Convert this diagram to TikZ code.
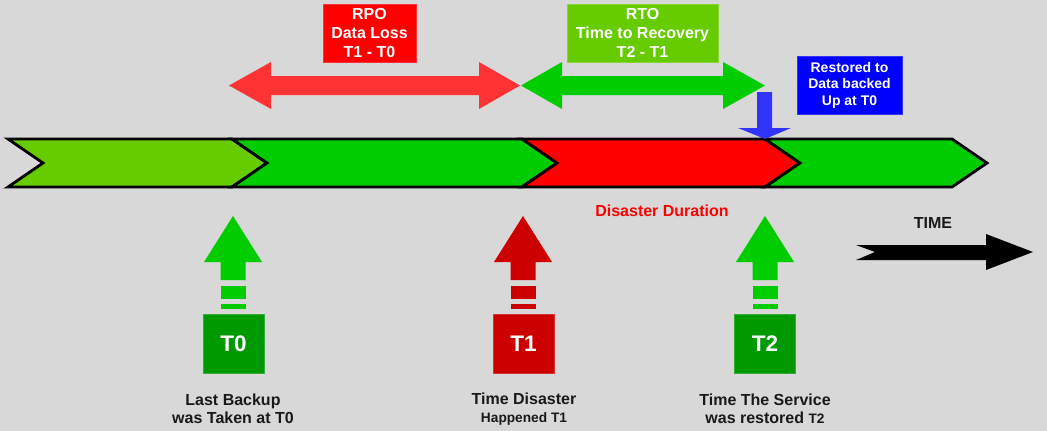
\documentclass[tikz,border=0pt]{standalone}
\usepackage{fontspec}
\setmainfont{Liberation Sans}
\definecolor{bg}{RGB}{216,216,216}
\definecolor{lgreen}{RGB}{102,204,0}
\definecolor{mgreen}{RGB}{0,204,0}
\definecolor{dgreen}{RGB}{0,153,0}
\definecolor{pred}{RGB}{255,0,0}
\definecolor{lred}{RGB}{255,51,51}
\definecolor{dred}{RGB}{204,0,0}
\definecolor{pblue}{RGB}{0,0,255}
\definecolor{lblue}{RGB}{51,51,255}
\begin{document}
\begin{tikzpicture}[x=1pt,y=-1pt,
  chev/.style={draw=black,line width=2.8pt,line join=miter},
  topbox/.style={fill=#1,draw=#1!80!white,line width=0.8pt,text=white,align=center,
    font=\bfseries\fontsize{16}{19}\selectfont,inner sep=0pt},
  tbox/.style={fill=#1,draw=#1!80!white,line width=0.8pt,text=white,
    minimum width=61pt,minimum height=59pt,inner sep=0pt,
    font=\bfseries\fontsize{22.5}{24}\selectfont},
  lbl/.style={align=center,text=black!90,font=\bfseries\fontsize{16}{18.5}\selectfont,inner sep=0pt},
]
\fill[bg] (0,0) rectangle (1047,431);
\useasboundingbox (0,0) rectangle (1047,431);

% timeline chevrons
\draw[chev,fill=lgreen] (8,139) -- (232,139) -- (267,163) -- (232,187) -- (8,187) -- (43,163) -- cycle;
\draw[chev,fill=mgreen] (232,139) -- (522,139) -- (557,163) -- (522,187) -- (232,187) -- (267,163) -- cycle;
\draw[chev,fill=pred] (522,139) -- (765,139) -- (800,163) -- (765,187) -- (522,187) -- (557,163) -- cycle;
\draw[chev,fill=mgreen] (765,139) -- (952,139) -- (987,163) -- (952,187) -- (765,187) -- (800,163) -- cycle;

% top double arrows
\fill[lred] (229,85.5) -- (271,62) -- (271,76) -- (479,76) -- (479,62) -- (520,85.5)
  -- (479,109) -- (479,95) -- (271,95) -- (271,109) -- cycle;
\fill[mgreen] (521,85.5) -- (562,62) -- (562,76) -- (723,76) -- (723,62) -- (765,85.5)
  -- (723,109) -- (723,95) -- (562,95) -- (562,109) -- cycle;

% blue down arrow
\fill[lblue] (757,92) -- (772,92) -- (772,128) -- (791,128) -- (765,139) -- (738,128) -- (757,128) -- cycle;

% top boxes
\node[topbox=pred,minimum width=93pt,minimum height=58pt] (rpo) at (369.5,33)
  {RPO\\Data Loss\\T1 - T0};
\node[topbox=lgreen,minimum width=151pt,minimum height=58pt] (rto) at (642.5,33)
  {RTO\\Time to Recovery\\T2 - T1};
\node[topbox=pblue,minimum width=105pt,minimum height=58pt,
  font=\bfseries\fontsize{14}{16.5}\selectfont] (rest) at (849.5,85)
  {Restored to\\Data backed\\Up at T0};

% disaster duration
\node[text=pred,font=\bfseries\fontsize{16}{18}\selectfont,inner sep=0pt] (dd) at (662,211) {Disaster Duration};

% time arrow
\fill[black] (856,245) -- (986,245) -- (986,234) -- (1033,252) -- (986,270) -- (986,260)
  -- (856,260) -- (875,252) -- cycle;
\node[font=\bfseries\fontsize{16}{18}\selectfont,text=black!90,inner sep=0pt] (time) at (933,223) {TIME};

% bottom up arrows
\foreach \cx/\col in {233/mgreen,523/dred,765/mgreen}{
  \fill[\col] (\cx,216) -- (\cx+29,262) -- (\cx+12.5,262) -- (\cx+12.5,280) -- (\cx-12.5,280)
    -- (\cx-12.5,262) -- (\cx-29,262) -- cycle;
  \fill[\col] (\cx-12.5,286) rectangle (\cx+12.5,299);
  \fill[\col] (\cx-12.5,304) rectangle (\cx+12.5,309);
}

% T boxes
\node[tbox=dgreen] (t0) at (233.5,343.5) {T0};
\node[tbox=dred] (t1) at (523.5,343.5) {T1};
\node[tbox=dgreen] (t2) at (765,343.5) {T2};

% labels
\node[lbl] (l0) at (233,409) {Last Backup\\was Taken at T0};
\node[lbl] (l1) at (524,409) {Time Disaster\\{\fontsize{13.7}{18}\selectfont Happened T1}};
\node[lbl] (l2) at (765,409) {Time The Service\\was restored {\fontsize{13.7}{18}\selectfont T2}};
\end{tikzpicture}
\end{document}
